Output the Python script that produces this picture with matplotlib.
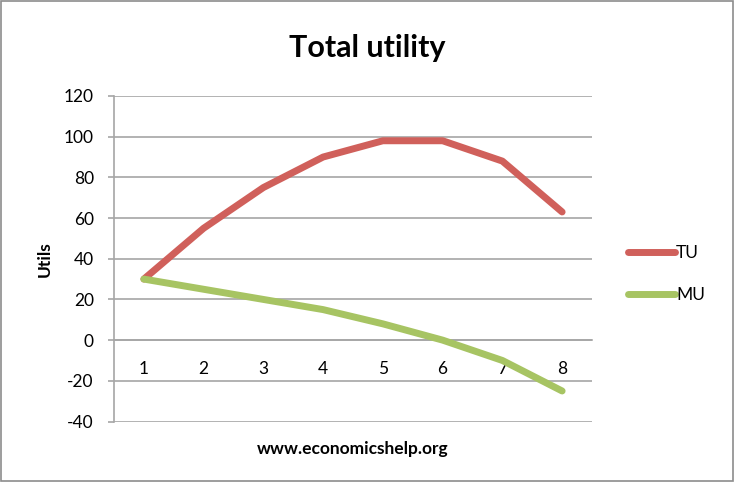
import matplotlib
matplotlib.use("Agg")
import matplotlib.pyplot as plt
from matplotlib.patches import Rectangle

# data
units = [1, 2, 3, 4, 5, 6, 7, 8]
tu = [30, 55, 75, 90, 98, 98, 88, 63]
mu = [30, 25, 20, 15, 8, 0, -10, -25]
y_ticks = [-40, -20, 0, 20, 40, 60, 80, 100, 120]

plt.rcParams['font.family'] = ['Lato', 'DejaVu Sans']
plt.rcParams['axes.unicode_minus'] = False

grey = '#a6a6a6'
red = '#d0605b'
green = '#a7c463'

fig = plt.figure(figsize=(7.35, 4.82), dpi=100)
ax = fig.add_axes([114 / 735, 1 - 421.5 / 482, (592 - 114) / 735, (421.5 - 96) / 482])

ax.plot(units, tu, color=red, lw=5, solid_capstyle='round', label='TU', zorder=3)
ax.plot(units, mu, color=green, lw=5, solid_capstyle='round', label='MU', zorder=3)

ax.set_xlim(0.5, 8.5)
ax.set_ylim(-40, 120)
ax.set_yticks(y_ticks)
ax.set_xticks(units)
ax.set_xticklabels([str(u) for u in units])

# gridlines
ax.grid(axis='y', color=grey, lw=1.2, zorder=0)
ax.set_axisbelow(True)

for s in ['top', 'right']:
    ax.spines[s].set_visible(False)
ax.spines['left'].set_color(grey)
ax.spines['left'].set_linewidth(1.2)
ax.spines['bottom'].set_position(('data', 0))
ax.spines['bottom'].set_color(grey)
ax.spines['bottom'].set_linewidth(1.2)

ax.tick_params(axis='y', direction='out', length=4.5, width=1.2, color=grey,
               pad=10, labelsize=12.5, labelcolor='black')
ax.tick_params(axis='x', length=0, pad=15, labelsize=12.5, labelcolor='black')

ax.set_ylabel('Utils', fontsize=12.5, fontweight='bold', labelpad=8)
ax.set_xlabel('www.economicshelp.org', fontsize=12.5, fontweight='bold', labelpad=0)
ax.xaxis.set_label_coords(0.5, -0.06)

fig.text(0.5, 1 - 57 / 482, 'Total utility', ha='center', va='baseline',
         fontsize=22, fontweight='bold')

fig.legend(loc='center left', bbox_to_anchor=(612 / 735, 1 - 274 / 482),
           frameon=False, fontsize=12.5, handlelength=2.7, handletextpad=0.1,
           labelspacing=1.45)

# chart frame
fig.add_artist(Rectangle((0.002, 0.003), 0.995, 0.994, transform=fig.transFigure,
                         fill=False, edgecolor='#8c8c8c', lw=1.2))

fig.savefig('out.png', dpi=100)
